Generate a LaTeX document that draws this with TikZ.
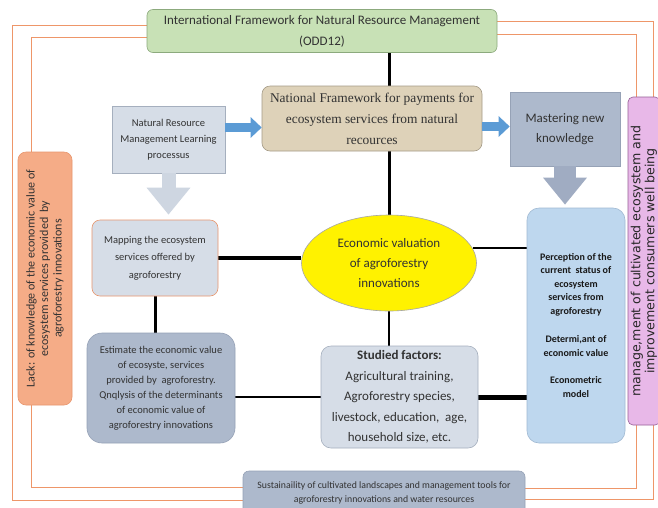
\documentclass[tikz,border=0pt]{standalone}
\usepackage{fontspec}
\setmainfont{Carlito}
\newfontfamily\serifface{Liberation Serif}
\newfontfamily\wideface{DejaVu Sans}
\usetikzlibrary{shapes.geometric,arrows.meta,backgrounds,calc}

\definecolor{txt}{RGB}{50,50,50}
\definecolor{greenfill}{RGB}{200,225,182}
\definecolor{greenline}{RGB}{140,170,125}
\definecolor{tanfill}{RGB}{222,210,185}
\definecolor{tanline}{RGB}{165,155,135}
\definecolor{palefill}{RGB}{214,221,231}
\definecolor{paleline}{RGB}{165,175,190}
\definecolor{slatefill}{RGB}{173,185,204}
\definecolor{slateline}{RGB}{150,162,182}
\definecolor{pinkfill}{RGB}{232,184,232}
\definecolor{pinkline}{RGB}{150,95,150}
\definecolor{salmonfill}{RGB}{245,172,135}
\definecolor{salmonline}{RGB}{232,150,110}
\definecolor{percfill}{RGB}{190,215,238}
\definecolor{percline}{RGB}{160,185,210}
\definecolor{arrowblue}{RGB}{91,155,213}
\definecolor{arrowpale}{RGB}{206,214,225}
\definecolor{arrowslate}{RGB}{160,172,194}
\definecolor{frameorange}{RGB}{238,150,105}

\begin{document}
\begin{tikzpicture}[x=1pt,y=-1pt,
  every node/.style={text=txt, inner sep=0pt, align=center},
  panel/.style={draw, line width=0.6pt, rounded corners=#1},
  panel/.default=8pt,
  link/.style={draw=black, line width=#1},
  link/.default=2.5pt,
  frameline/.style={draw=frameorange, line width=1pt},
  bluearrow/.style={draw=arrowblue, line width=9pt, -{Triangle[length=11pt,width=20pt]}},
  downarrow/.style={line width=#1, -{Triangle[length=27pt,width=42pt]}}
]
\useasboundingbox (0,0) rectangle (658,507);
\clip (0,0) rectangle (658,507);

% top level frameworks
\node[panel=6pt, fill=greenfill, draw=greenline, minimum width=350pt, minimum height=43pt,
      font=\fontsize{13}{21}\selectfont] (intl) at (322,31)
  {International Framework for Natural Resource Management\\(ODD12)};
\node[panel=8pt, fill=tanfill, draw=tanline, minimum width=220pt, minimum height=65pt,
      font=\serifface\fontsize{13.4}{21}\selectfont] (nat) at (372,118.5)
  {National Framework for payments for\\ecosystem services from natural\\recources};

% learning and knowledge
\node[panel=0pt, fill=palefill, draw=paleline, minimum width=113pt, minimum height=67pt,
      font=\fontsize{10.5}{16}\selectfont] (nrm) at (168.5,139.5)
  {Natural Resource\\Management Learning\\processus};
\node[panel=0pt, fill=slatefill, draw=slateline, minimum width=110pt, minimum height=74pt,
      font=\fontsize{13}{20}\selectfont] (mast) at (565,129)
  {Mastering new\\knowledge};

% side panels
\node[panel=8pt, fill=salmonfill, draw=salmonline, rotate=90, minimum width=253pt, minimum height=54pt,
      font=\fontsize{12}{13.5}\selectfont] (lack) at (45,278.5)
  {Lack: of knowledge of the economic value of\\ecosystem services provided\ \ by\\agroforestry innovations};
\node[panel=5pt, fill=pinkfill, draw=pinkline, rotate=90, minimum width=328pt, minimum height=32pt,
      font=\wideface\fontsize{12.6}{14}\selectfont, text=black!85] (pink) at (644,261)
  {manage,ment of cultivated ecosystem and\\improvement consumers well being};

% central analysis
\node[panel=8pt, fill=palefill, draw=salmonline, minimum width=126pt, minimum height=76pt,
      font=\fontsize{10.5}{17.5}\selectfont] (map) at (155,258)
  {Mapping the ecosystem\\services offered by\\agroforestry};
\node[ellipse, draw=black!35, fill=yellow, line width=0.6pt, minimum width=175pt, minimum height=96pt,
      font=\fontsize{13}{20}\selectfont] (eco) at (389,263)
  {Economic valuation\\of agroforestry\\innovations};
\node[panel=12pt, fill=percfill, draw=percline, minimum width=98pt, minimum height=235pt,
      font=\bfseries\fontsize{10}{13.5}\selectfont, text=black!90] (perc) at (576,325.5)
  {Perception of the\\current\ \ status of\\ecosystem\\services from\\agroforestry\\[15pt]Determi,ant of\\economic value\\[14pt]Econometric\\model};
\node[panel=15pt, fill=slatefill, draw=slateline, minimum width=148pt, minimum height=110pt,
      font=\fontsize{10.5}{15}\selectfont] (est) at (161,388)
  {Estimate the economic value\\of ecosyste, services\\provided by\ \ agroforestry.\\Qnqlysis of the determinants\\of economic value of\\agroforestry innovations};
\node[panel=10pt, fill=palefill, draw=paleline, minimum width=157pt, minimum height=102pt,
      font=\fontsize{13}{20.5}\selectfont] (stud) at (399.5,397)
  {\textbf{Studied factors:}\\Agricultural training,\\Agroforestry species,\\livestock, education,\ \ age,\\household size, etc.};
\node[panel=6pt, fill=slatefill, draw=slateline, minimum width=282pt, minimum height=44pt,
      font=\fontsize{9.8}{14}\selectfont] (sust) at (384,493)
  {Sustainaility of cultivated landscapes and management tools for\\agroforestry innovations and water resources};

% corners of the two orange frames
\coordinate (oTL) at (12,25);
\coordinate (oBL) at (12,500);
\coordinate (iTL) at (31,37);
\coordinate (iBL) at (31,487);
\coordinate (oTR) at (653,21);
\coordinate (oBR) at (653,499);
\coordinate (iTR) at (636,34);
\coordinate (iBR) at (636,488);

\begin{pgfonlayer}{background}
  \fill[white] (0,0) rectangle (658,507);
  % frames linking the global and local levels
  \draw[frameline] (oTL -| intl.west) -- (oTL) -- (oBL) -- (oBL -| sust.west);
  \draw[frameline] (iTL -| intl.west) -- (iTL) -- (iBL) -- (iBL -| sust.west);
  \draw[frameline] (oTR -| intl.east) -- (oTR) -- (oBR) -- (oBR -| sust.east);
  \draw[frameline] (iTR -| intl.east) -- (iTR) -- (iBR) -- (iBR -| sust.east);

  % plain connectors
  \draw[link=3pt] (eco.north |- intl.south) -- (eco.north |- nat.north);
  \draw[link=3pt] (eco.north |- nat.south) -- (eco.north);
  \draw[link=4pt] (map.east) -- (map.east -| eco.west);
  \draw[link=2pt] (eco.10) -- (eco.10 -| perc.west);
  \draw[link=3pt] (map.south) -- (map.south |- est.north);
  \draw[link=2.5pt] (stud.west) -- (stud.west -| est.east);
  \draw[link=2.5pt] (eco.south) -- (eco.south |- stud.north);
  \draw[link=5pt] (stud.east) -- (stud.east -| perc.west);
\end{pgfonlayer}

% block arrows
\draw[bluearrow] ([yshift=12pt]nrm.east) -- ([yshift=12pt]nrm.east -| nat.west);
\draw[bluearrow] ([yshift=-8pt]nat.east) -- ([yshift=-8pt]nat.east -| mast.west);
\draw[downarrow=14pt, draw=arrowpale] (nrm.south) -- ([yshift=5pt]nrm.south |- map.north);
\draw[downarrow=22pt, draw=arrowslate] (mast.south) -- ([yshift=3pt]mast.south |- perc.north);
\end{tikzpicture}
\end{document}
